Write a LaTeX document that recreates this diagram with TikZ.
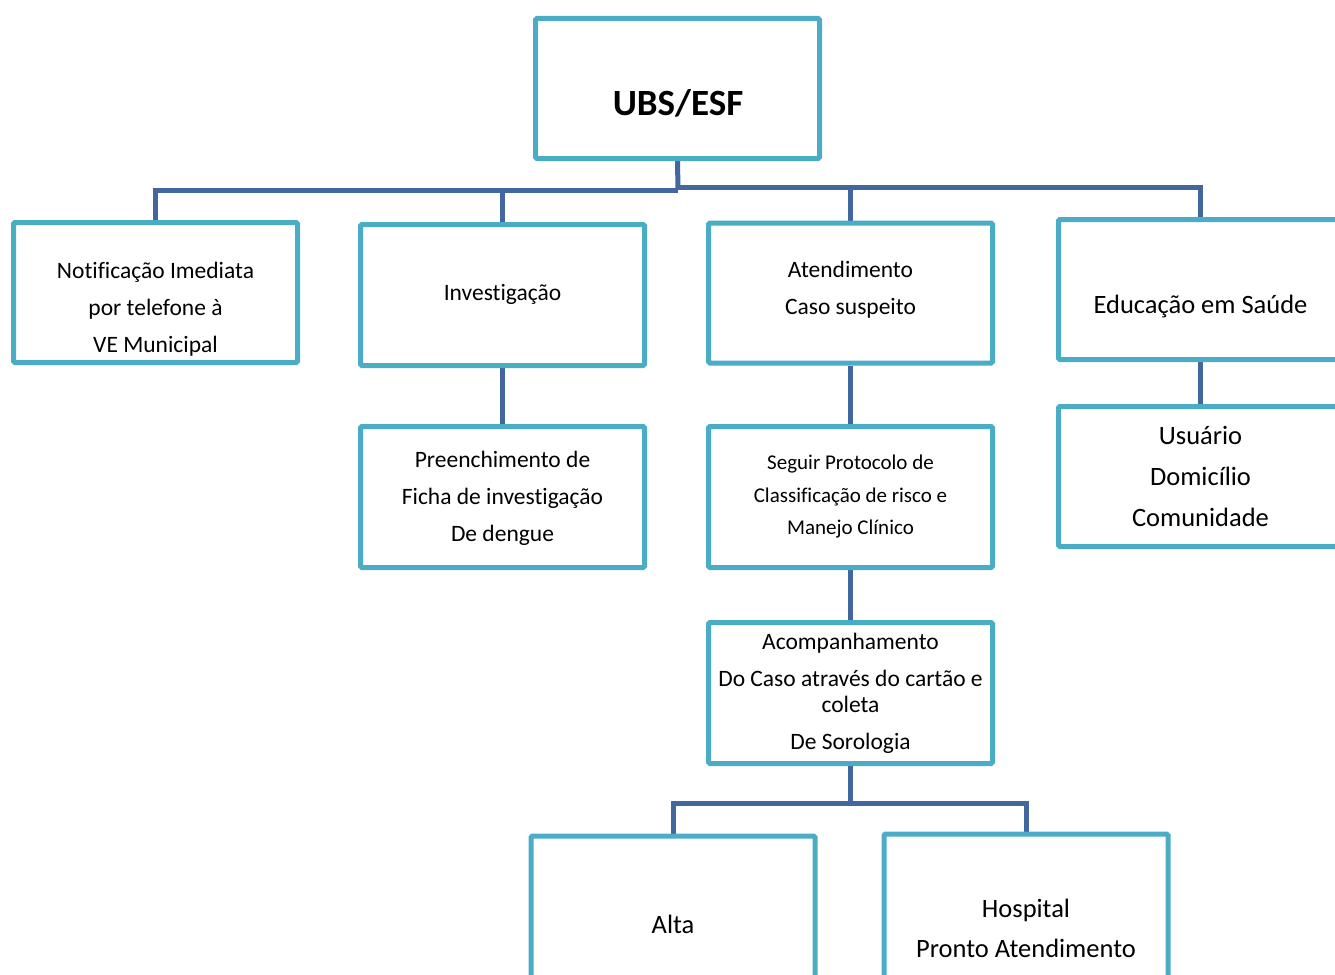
\documentclass[tikz,border=0pt]{standalone}
\usepackage{fontspec}
\setmainfont{Carlito}[Ligatures=NoCommon]
\usetikzlibrary{backgrounds}
\definecolor{boxc}{HTML}{4BACC6}
\definecolor{linec}{HTML}{41679E}
\begin{document}
\begin{tikzpicture}[x=1pt,y=-1pt,
  box/.style={draw=boxc, line width=5pt, rounded corners=1.5pt, fill=white, inner sep=0pt, minimum width=284pt, minimum height=140pt},
  conn/.style={draw=linec, line width=5pt},
  txt/.style={align=center, inner sep=0pt, text=black},
  fA/.style={font=\fontsize{23.5}{37}\selectfont},
  fB/.style={font=\fontsize{26.5}{41}\selectfont},
  fC/.style={font=\fontsize{21}{32.5}\selectfont}]
\useasboundingbox (0,0) rectangle (1335,974);
\clip (0,0) rectangle (1335,974);
% boxes
\node[box] (top) at (677.5,88.5) {};
\node[box] (notif) at (155.5,292.5) {};
\node[box, minimum height=141pt] (invest) at (502.5,295) {};
\node[box] (atend) at (850.5,293) {};
\node[box] (educ) at (1200.5,289.5) {};
\node[box, minimum height=141pt] (preen) at (502.5,497) {};
\node[box, minimum height=141pt] (seguir) at (850.5,497) {};
\node[box] (usu) at (1200.5,476.5) {};
\node[box, minimum height=141pt] (acomp) at (850.5,693) {};
\node[box, minimum height=160pt] (alta) at (673,916) {};
\node[box, minimum height=160pt] (hosp) at (1026,914) {};
% texts
\node[txt, font=\fontsize{37}{44}\selectfont\bfseries] (tTop) at (678,103) {UBS/ESF};
\node[txt, fA] (tNotif) at (155.5,309.5) {Notificação Imediata\\por telefone à\\VE Municipal};
\node[txt, fA] (tInvest) at (502.5,294.5) {Investigação};
\node[txt, fA] (tAtend) at (850.5,290) {Atendimento\\Caso suspeito};
\node[txt, fB] (tEduc) at (1200.5,306.5) {Educação em Saúde};
\node[txt, fA] (tPreen) at (502.5,498.5) {Preenchimento de\\Ficha de investigação\\De dengue};
\node[txt, fC] (tSeguir) at (850.5,497) {Seguir Protocolo de\\Classificação de risco e\\Manejo Clínico};
\node[txt, fB] (tUsu) at (1200.5,476) {Usuário\\Domicílio\\Comunidade};
\node[txt, font=\fontsize{23.5}{26}\selectfont] (tAcomp) at (850.5,693.5) {Acompanhamento\\[11pt]Do Caso através do cartão e\\coleta\\[11pt]De Sorologia};
\node[txt, fB] (tAlta) at (673,924) {Alta};
\node[txt, font=\fontsize{26.5}{40}\selectfont] (tHosp) at (1026,928) {Hospital\\Pronto Atendimento};
% connectors
\coordinate (j1) at (678,190);
\coordinate (j2) at (678,187);
\coordinate (j3) at (850.5,803);
\begin{pgfonlayer}{background}
\draw[conn] (top.south) -- (j1);
\draw[conn] (j1) -| (notif.north);
\draw[conn] (j1) -| (invest.north);
\draw[conn] (j2) -| (atend.north);
\draw[conn] (j2) -| (educ.north);
\draw[conn] (invest.south) -- (preen.north);
\draw[conn] (atend.south) -- (seguir.north);
\draw[conn] (educ.south) -- (usu.north);
\draw[conn] (seguir.south) -- (acomp.north);
\draw[conn] (acomp.south) -- (j3);
\draw[conn] (j3) -| (alta.north);
\draw[conn] (j3) -| (hosp.north);
\end{pgfonlayer}
\end{tikzpicture}
\end{document}
